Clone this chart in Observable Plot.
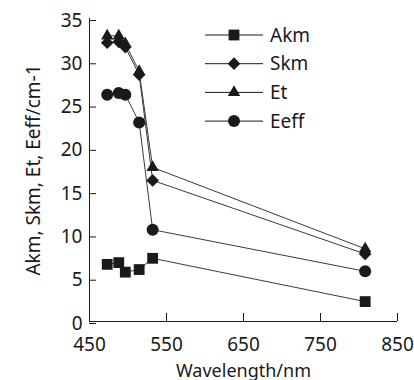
<!DOCTYPE html>
<html><head><meta charset="utf-8">
<script src="https://cdn.jsdelivr.net/npm/d3@7"></script>
<script src="https://cdn.jsdelivr.net/npm/@observablehq/plot@0.6"></script>
<style>
html,body{margin:0;padding:0;background:#fff;}
#chart{position:relative;width:414px;height:380px;overflow:hidden;font-family:"Noto Sans",sans-serif;}
#chart svg{position:absolute;left:0;top:0;}
</style></head><body><div id="chart"></div>
<script>
const wavelengths = [473, 488, 496.5, 514.5, 532, 808];
const akm  = [6.6, 6.8, 5.7, 6.0, 7.3, 2.3];
const skm  = [32.2, 32.3, 31.7, 28.5, 16.3, 7.8];
const et   = [33.0, 33.0, 32.1, 28.9, 17.8, 8.4];
const eeff = [26.2, 26.4, 26.2, 23.0, 10.6, 5.8];
const seriesNames = ["Akm", "Skm", "Et", "Eeff"];
const seriesValues = [akm, skm, et, eeff];
const xTicks = [450, 550, 650, 750, 850];
const yTicks = [0, 5, 10, 15, 20, 25, 30, 35];
const xLabel = "Wavelength/nm";
const yLabel = "Akm, Skm, Et, Eeff/cm-1";

const symbols = ["square", "diamond2", "triangle", "circle"];
const radii = [6.1, 5.7, 4.6, 6.0];
const lineColor = "#3a3a3a";
const ink = "#1a1a1a";

const series = seriesNames.map((name, i) =>
  wavelengths.map((w, j) => ({name, w, v: seriesValues[i][j]})));

const marks = [];
series.forEach((s) => marks.push(Plot.line(s, {x: "w", y: "v", stroke: lineColor, strokeWidth: 1})));
series.forEach((s, i) => marks.push(Plot.dot(s, {x: "w", y: "v", symbol: () => symbols[i], r: radii[i], fill: ink, stroke: "none"})));

const chart = Plot.plot({
  width: 414,
  height: 380,
  marginLeft: 89,
  marginRight: 17,
  marginTop: 18,
  marginBottom: 59,
  style: {fontFamily: "'Noto Sans', sans-serif", fontSize: "19px", color: ink, background: "#fff", overflow: "visible"},
  x: {domain: [450, 850]},
  y: {domain: [0, 35]},
  symbol: {type: "identity"},
  marks: [
    Plot.ruleY([0], {stroke: ink, strokeWidth: 1}),
    Plot.ruleX([450], {stroke: ink, strokeWidth: 1}),
    Plot.axisX({ticks: xTicks, tickSize: -8, tickPadding: 24, tickFormat: d => String(d), label: null, stroke: ink}),
    Plot.text([xLabel], {frameAnchor: "bottom", lineAnchor: "bottom", dy: 55, fontSize: 18, fill: ink}),
    Plot.axisY({ticks: yTicks, tickSize: -7, tickPadding: 14, tickFormat: d => String(d), label: yLabel, labelAnchor: "center", labelOffset: 63, labelArrow: "none", stroke: ink, dy: 2}),
    ...marks
  ]
});
document.getElementById("chart").appendChild(chart);

// Legend
const legend = d3.select("#chart").append("svg")
  .attr("width", 414).attr("height", 380)
  .style("pointer-events", "none");
const d3Symbols = {square: d3.symbolSquare, diamond2: d3.symbolDiamond2, triangle: d3.symbolTriangle, circle: d3.symbolCircle};
const lx0 = 205, lx1 = 263, lmx = 234, ltx = 270, ly0 = 35, lstep = 28.7;
seriesNames.forEach((name, i) => {
  const y = ly0 + i * lstep;
  const g = legend.append("g");
  g.append("line").attr("x1", lx0).attr("x2", lx1).attr("y1", y).attr("y2", y)
    .attr("stroke", ink).attr("stroke-width", 1);
  g.append("path").attr("transform", `translate(${lmx},${y})`)
    .attr("d", d3.symbol(d3Symbols[symbols[i]], Math.PI * radii[i] * radii[i])())
    .attr("fill", ink);
  g.append("text").attr("x", ltx).attr("y", y).attr("dy", "0.35em")
    .attr("font-family", "'Noto Sans', sans-serif").attr("font-size", 19).attr("fill", ink)
    .text(name);
});
</script>
</body></html>
